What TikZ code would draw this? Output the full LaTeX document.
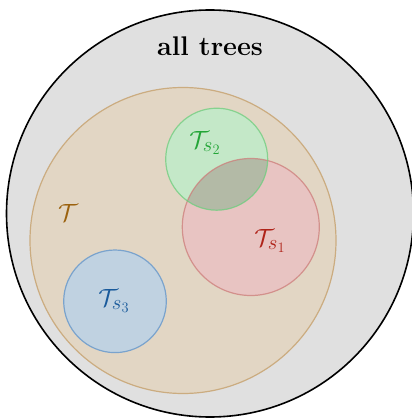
\documentclass[tikz,border=0pt]{standalone}
\usepackage{amsmath}
\definecolor{tcol}{RGB}{155,98,15}
\definecolor{gcol}{RGB}{35,165,55}
\definecolor{rcol}{RGB}{175,35,25}
\definecolor{bcol}{RGB}{25,90,155}
\definecolor{allfill}{RGB}{224,224,224}
\definecolor{tfill}{RGB}{226,214,196}
\definecolor{tline}{RGB}{203,172,128}
\definecolor{gfill}{RGB}{196,232,200}
\definecolor{rfill}{RGB}{232,196,194}
\definecolor{bfill}{RGB}{192,210,225}
\definecolor{ovfill}{RGB}{179,186,166}
\definecolor{gline}{RGB}{110,205,125}
\definecolor{rline}{RGB}{205,125,122}
\definecolor{bline}{RGB}{122,163,205}
\tikzset{
  setc/.style={circle, inner sep=0pt, minimum size=#1},
  lab/.style={inner sep=0pt, font=\fontsize{30}{34}\selectfont},
  rim/.style={line width=1.2pt, draw opacity=0.75},
}
\begin{document}
\begin{tikzpicture}[x=1pt,y=-1pt]
\useasboundingbox (0,0) rectangle (411,419);
\node[setc=407pt, fill=allfill, draw=black, line width=1.6pt] (all) at (210,213.5) {};
\node[setc=306pt, fill=tfill, draw=tline, line width=1.2pt] (T) at (183,240.5) {};
\node[setc=137pt, fill=rfill] (s1) at (250.8,227) {};
\node[setc=102pt, fill=gfill] (s2) at (216.7,159.2) {};
\node[setc=102.6pt, fill=bfill, draw=bline, line width=1.2pt] (s3) at (115,301.3) {};
\begin{scope}
  \clip (s1.center) circle (68.5pt);
  \fill[ovfill] (s2.center) circle (51pt);
\end{scope}
\draw[rim, draw=rline] (s1.center) circle (68.5pt);
\draw[rim, draw=gline] (s2.center) circle (51pt);
\node[inner sep=0pt, font=\fontsize{27}{30}\selectfont\bfseries] (title) at (210,46) {all trees};
\node[lab, text=tcol] (Tl) at (68,213) {$\mathcal{T}$};
\node[lab, text=gcol] (s2l) at (205,143) {$\mathcal{T}_{s_2}$};
\node[lab, text=rcol] (s1l) at (270,241) {$\mathcal{T}_{s_1}$};
\node[lab, text=bcol] (s3l) at (114,301) {$\mathcal{T}_{s_3}$};
\end{tikzpicture}
\end{document}
